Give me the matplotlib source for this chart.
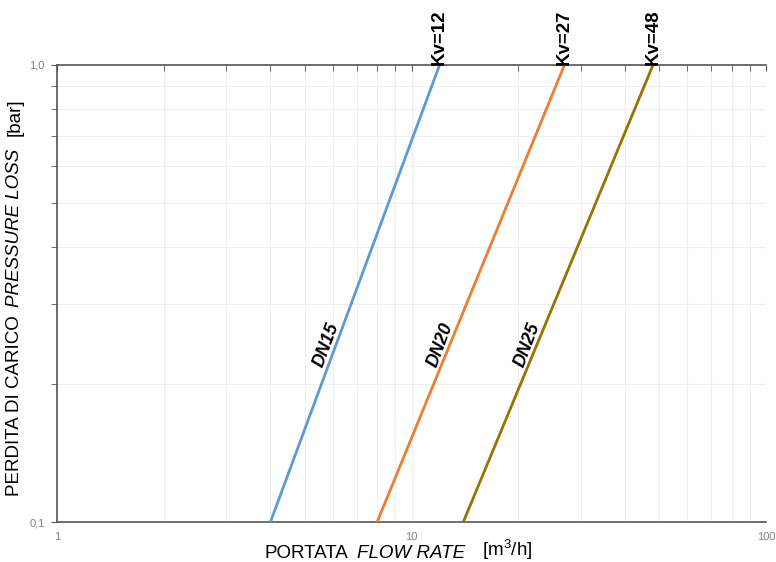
import math
import matplotlib
matplotlib.use("Agg")
import matplotlib.pyplot as plt
from matplotlib.ticker import LogLocator, FixedLocator, NullFormatter, FixedFormatter

plt.rcParams['font.family'] = ['Liberation Sans', 'DejaVu Sans']

# Data
series = ["DN15", "DN20", "DN25"]
kv_labels = ["Kv=12", "Kv=27", "Kv=48"]
flow_low = [4.0, 8.0, 14.0]      # flow at 0.1 bar
flow_high = [12.0, 27.0, 48.0]   # flow at 1.0 bar
dp = [0.1, 1.0]
colors = ["#5B9BD5", "#ED7D31", "#997300"]
label_pos_dp = [0.24, 0.24, 0.24]  # pressure where DN labels sit

fig = plt.figure(figsize=(7.76, 5.62), dpi=100)
ax = fig.add_axes([57/776, 40/562, (766-57)/776, (522-65)/562])

ax.set_xscale('log')
ax.set_yscale('log')
ax.set_xlim(1, 100)
ax.set_ylim(0.1, 1.0)

for name, kv, lo, hi, c, ld in zip(series, kv_labels, flow_low, flow_high, colors, label_pos_dp):
    ax.plot([lo, hi], dp, color=c, lw=2.0, solid_capstyle='butt', zorder=3)
    ax.text(hi, 1.0, kv, rotation=90, ha='center', va='bottom', fontsize=13.5,
            fontweight='bold', transform=ax.transData, clip_on=False)
    t = (math.log10(ld) - math.log10(0.1)) / 1.0
    xl = 10 ** (math.log10(lo) + t * (math.log10(hi) - math.log10(lo)))
    ax.text(xl, ld, name, rotation=69.5, rotation_mode='anchor', ha='center', va='bottom',
            fontsize=13, fontweight='bold', fontstyle='italic', transform=ax.transData)

ax.xaxis.set_major_locator(FixedLocator([1, 10, 100]))
ax.xaxis.set_major_formatter(FixedFormatter(["1", "10", "100"]))
ax.xaxis.set_minor_locator(LogLocator(base=10, subs=range(2, 10)))
ax.xaxis.set_minor_formatter(NullFormatter())
ax.yaxis.set_major_locator(FixedLocator([0.1, 1.0]))
ax.yaxis.set_major_formatter(FixedFormatter(["0,1", "1,0"]))
ax.yaxis.set_minor_locator(LogLocator(base=10, subs=range(2, 10)))
ax.yaxis.set_minor_formatter(NullFormatter())

ax.grid(True, which='both', color='#eeeeee', lw=0.8, zorder=0)
ax.set_axisbelow(True)

for s in ['left', 'top', 'bottom']:
    ax.spines[s].set_color('#555555')
    ax.spines[s].set_linewidth(1.2)
ax.spines['right'].set_visible(False)

ax.tick_params(axis='x', which='both', bottom=False, top=True, direction='in',
               length=4, color='#555555', labelsize=8, labelcolor='#808080', pad=7)
ax.tick_params(axis='y', which='both', left=True, direction='out', length=4,
               color='#555555', labelsize=8, labelcolor='#808080', pad=5)

fs = 13.5
t1 = fig.text(265/776, 1 - 553/562, "PORTATA", fontsize=fs, va='center', ha='left')
t2 = ax.annotate("FLOW RATE", xy=(1, 0), xycoords=t1, xytext=(6, 0), textcoords='offset points',
                 fontsize=fs, fontstyle='italic', va='bottom', ha='left', annotation_clip=False)
t3 = ax.annotate("[m$^\\mathregular{3}$/h]", xy=(1, 0), xycoords=t2, xytext=(12, 0), textcoords='offset points',
                 fontsize=fs, va='bottom', ha='left', annotation_clip=False)

y1 = fig.text(15/776, 1 - 496/562, "PERDITA DI CARICO", fontsize=fs, rotation=90,
              va='bottom', ha='center')
y2 = ax.annotate("PRESSURE LOSS", xy=(0.5, 1), xycoords=y1, xytext=(0, 6), textcoords='offset points',
                 fontsize=fs, fontstyle='italic', rotation=90, va='bottom', ha='center', annotation_clip=False)
y3 = ax.annotate("[bar]", xy=(0.5, 1), xycoords=y2, xytext=(0, 9), textcoords='offset points',
                 fontsize=fs, rotation=90, va='bottom', ha='center', annotation_clip=False)

fig.savefig("out.png", dpi=100)
